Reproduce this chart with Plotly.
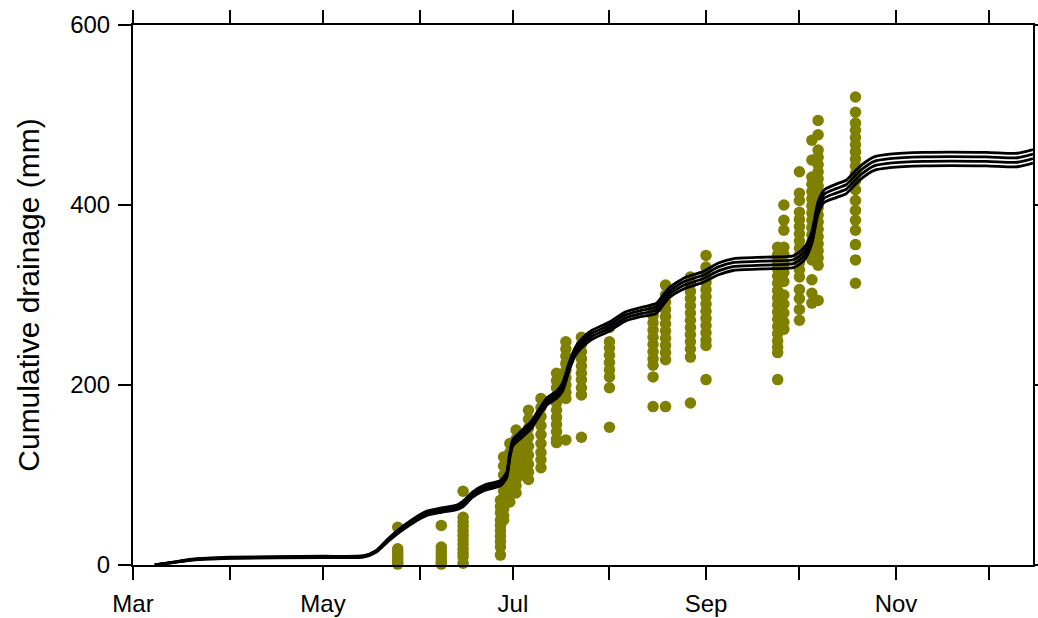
import plotly.graph_objects as go

# ---- cumulative drainage simulated lines (4 runs) ----
line_dates = ["2015-03-08", "2015-03-14", "2015-03-20", "2015-04-01", "2015-05-01", "2015-05-14",
              "2015-05-18", "2015-05-22", "2015-05-27", "2015-06-03", "2015-06-08", "2015-06-13",
              "2015-06-15", "2015-06-18", "2015-06-22", "2015-06-27", "2015-06-29", "2015-06-30",
              "2015-07-01", "2015-07-04", "2015-07-07", "2015-07-09", "2015-07-12", "2015-07-15",
              "2015-07-17", "2015-07-19", "2015-07-21", "2015-07-23", "2015-07-26", "2015-08-01",
              "2015-08-06", "2015-08-11", "2015-08-16", "2015-08-20", "2015-08-25", "2015-08-31",
              "2015-09-05", "2015-09-10", "2015-09-20", "2015-09-29", "2015-10-01", "2015-10-03",
              "2015-10-05", "2015-10-07", "2015-10-09", "2015-10-13", "2015-10-16", "2015-10-18",
              "2015-10-21", "2015-10-25", "2015-10-30", "2015-11-10", "2015-11-30", "2015-12-10",
              "2015-12-15"]

run_a = [0, 3.3, 6.5, 8.6, 9.7, 10.3, 16, 29.5, 44, 59.5, 63.5, 66.5, 71, 81, 89, 94, 103, 125.5,
         139.5, 150, 160, 171, 186, 193, 202.5, 224.5, 241.5, 251, 260, 270, 281, 286, 290.5, 307.5,
         319, 326, 335.5, 340.5, 342, 343.5, 348, 355, 371, 404, 417, 423.5, 427.5, 434.5, 444.5,
         453.5, 456.5, 458.5, 458.5, 457.5, 461.5]
run_b = [0, 3.1, 6.2, 8.2, 9.2, 9.8, 15.3, 28.5, 42.7, 57.8, 61.8, 64.8, 69, 79, 87, 92, 101, 123.2,
         137.2, 147.3, 157.3, 168.3, 183.3, 190.3, 199.5, 221.5, 238.5, 247.7, 256.7, 266.7, 277.7,
         282.7, 286.8, 303.8, 315, 322, 331.2, 336.2, 337.7, 339.2, 343.3, 350.3, 366.3, 399.3,
         412.3, 418.5, 422.5, 429.5, 439.5, 448.5, 451.5, 453.5, 453.5, 452.5, 456.5]
run_c = [0, 2.9, 5.8, 7.8, 8.8, 9.2, 14.7, 27.5, 41.3, 56.2, 60.2, 63.2, 67, 77, 85, 90, 99, 120.8,
         134.8, 144.7, 154.7, 165.7, 180.7, 187.7, 196.5, 218.5, 235.5, 244.3, 253.3, 263.3, 274.3,
         279.3, 283.2, 300.2, 311, 318, 326.8, 331.8, 333.3, 334.8, 338.7, 345.7, 361.7, 394.7,
         407.7, 413.5, 417.5, 424.5, 434.5, 443.5, 446.5, 448.5, 448.5, 447.5, 451.5]
run_d = [0, 2.7, 5.5, 7.4, 8.3, 8.7, 14, 26.5, 40, 54.5, 58.5, 61.5, 65, 75, 83, 88, 97, 118.5,
         132.5, 142, 152, 163, 178, 185, 193.5, 215.5, 232.5, 241, 250, 260, 271, 276, 279.5, 296.5,
         307, 314, 322.5, 327.5, 329, 330.5, 334, 341, 357, 390, 403, 408.5, 412.5, 419.5, 429.5,
         438.5, 441.5, 443.5, 443.5, 442.5, 446.5]

# ---- observed cumulative drainage ----
obs_dates = ["2015-05-25", "2015-06-08", "2015-06-15", "2015-06-27", "2015-06-28", "2015-06-30",
             "2015-07-02", "2015-07-04", "2015-07-06", "2015-07-10", "2015-07-15", "2015-07-18",
             "2015-07-23", "2015-08-01", "2015-08-15", "2015-08-19", "2015-08-27", "2015-09-01",
             "2015-09-24", "2015-09-26", "2015-10-01", "2015-10-05", "2015-10-07", "2015-10-19"]
obs_values = [
    [42, 18, 15, 12, 9, 6, 3, 1],
    [44, 20, 16, 12, 8, 4, 1],
    [82, 53, 48, 43, 38, 33, 28, 23, 18, 13, 9, 2],
    [72, 65, 58, 50, 44, 38, 32, 26, 20, 11],
    [120, 110, 100, 90, 82, 75, 68, 62, 55, 50],
    [135, 125, 115, 105, 95, 88, 80, 70],
    [150, 140, 130, 120, 112, 103, 95, 88, 80],
    [140, 132, 124, 116, 108, 100],
    [172, 162, 152, 142, 132, 122, 112, 103, 95],
    [185, 175, 165, 155, 145, 135, 125, 117, 108],
    [213, 205, 197, 188, 180, 172, 164, 156, 148, 140, 136],
    [248, 240, 232, 224, 216, 208, 200, 192, 185, 139],
    [253, 245, 237, 229, 221, 213, 206, 197, 189, 142],
    [264, 248, 241, 233, 225, 217, 209, 197, 153],
    [285, 277, 269, 261, 253, 245, 237, 229, 222, 209, 176],
    [311, 300, 292, 284, 276, 268, 260, 252, 244, 236, 228, 176],
    [320, 312, 304, 296, 288, 280, 272, 264, 256, 248, 240, 231, 180],
    [344, 331, 322, 314, 306, 298, 290, 282, 274, 266, 258, 250, 244, 206],
    [353, 345, 337, 329, 321, 313, 305, 297, 289, 281, 273, 265, 257, 249, 242, 236, 206],
    [400, 383, 372, 353, 345, 335, 325, 315, 300, 290, 280, 270, 262],
    [437, 413, 405, 392, 384, 376, 368, 360, 352, 344, 336, 328, 320, 306, 296, 284, 272],
    [472, 450, 431, 423, 415, 407, 399, 391, 383, 375, 367, 359, 351, 343, 339, 317, 302, 291],
    [494, 478, 461, 453, 445, 437, 429, 421, 413, 405, 397, 389, 381, 373, 365, 357, 349, 341,
     333, 294],
    [520, 503, 491, 483, 475, 467, 459, 451, 443, 435, 427, 417, 405, 394, 383, 372, 356, 339, 313],
]

month_ticks = ["2015-03-01", "2015-04-01", "2015-05-01", "2015-06-01", "2015-07-01",
               "2015-08-01", "2015-09-01", "2015-10-01", "2015-11-01", "2015-12-01"]
month_labels = ["Mar", "", "May", "", "Jul", "", "Sep", "", "Nov", ""]
y_ticks = [0, 200, 400, 600]

x_obs = [d for d, vals in zip(obs_dates, obs_values) for _ in vals]
y_obs = [v for vals in obs_values for v in vals]

FONT = "Liberation Sans, Arial, sans-serif"

fig = go.Figure()
fig.add_trace(go.Scatter(
    x=x_obs, y=y_obs, mode="markers",
    marker=dict(color="#808000", size=11.5, line=dict(width=0)),
    cliponaxis=False, showlegend=False,
))
for run in [run_a, run_b, run_c, run_d]:
    fig.add_trace(go.Scatter(
        x=line_dates, y=run, mode="lines",
        line=dict(color="black", width=2.8, shape="spline", smoothing=0.6),
        showlegend=False,
    ))

axis_common = dict(
    showgrid=False, zeroline=False, showline=True, linewidth=2, linecolor="black",
    mirror="ticks", ticks="outside", ticklen=13, tickwidth=2, tickcolor="black",
    automargin=False,
    tickfont=dict(family=FONT, size=24, color="black"),
)

fig.update_layout(
    width=1038, height=618,
    margin=dict(l=133, r=5, t=25, b=53),
    plot_bgcolor="white", paper_bgcolor="white",
    font=dict(family=FONT, color="black"),
    xaxis=dict(range=["2015-03-01", "2015-12-15"], tickmode="array",
               tickvals=month_ticks, ticktext=month_labels, ticklabelstandoff=3,
               **axis_common),
    yaxis=dict(range=[0, 600], tickmode="array", tickvals=y_ticks, ticklabelstandoff=3,
               title=dict(text="Cumulative drainage (mm)", standoff=22,
                          font=dict(family=FONT, size=30)),
               **axis_common),
)

fig.write_html("out.html")
